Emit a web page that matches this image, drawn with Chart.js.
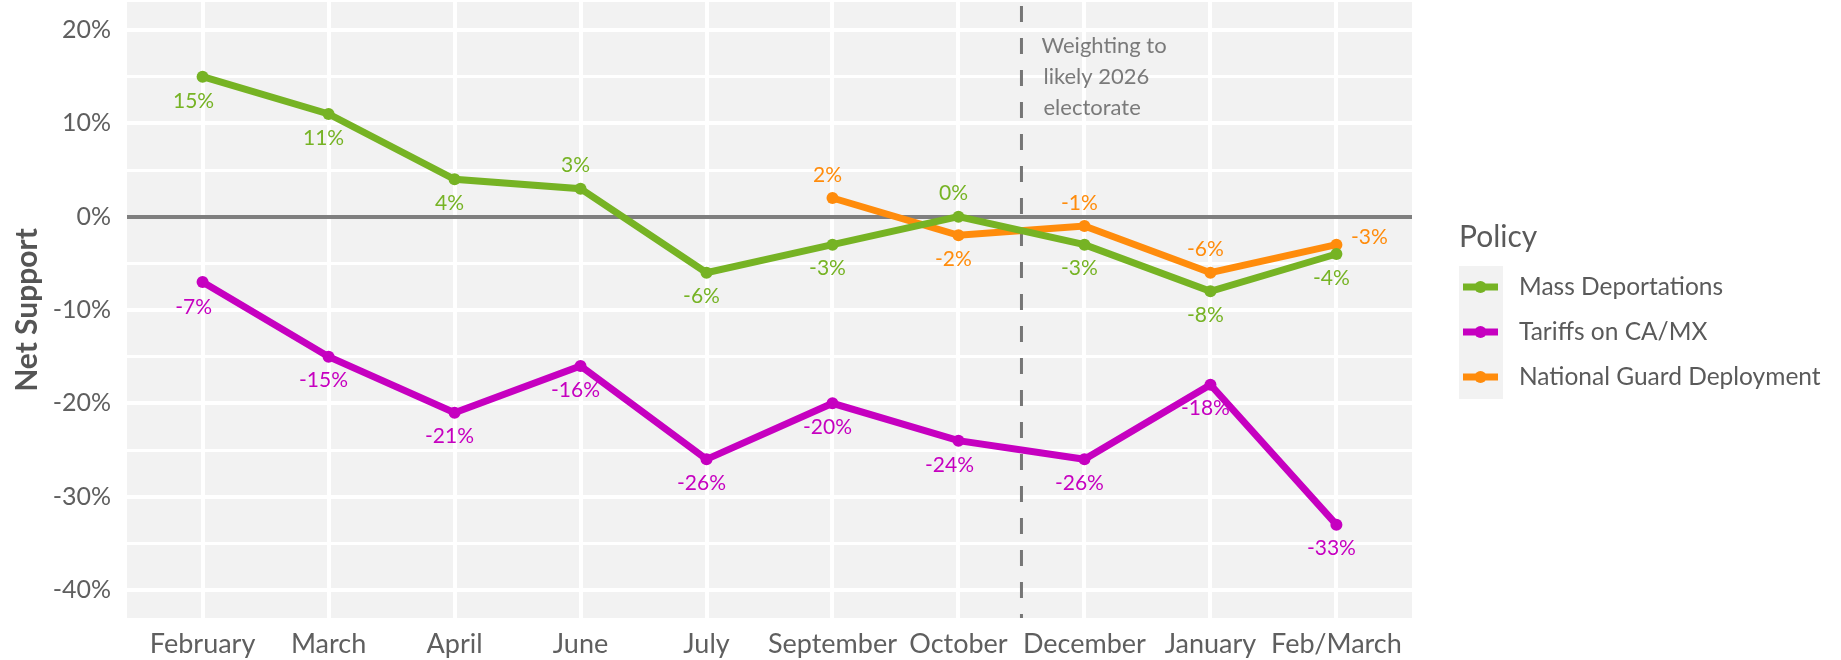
<!DOCTYPE html>
<html>
<head>
<meta charset="utf-8">
<script src="https://cdn.jsdelivr.net/npm/chart.js@4"></script>
<style>
  html, body { margin: 0; padding: 0; background: #fff; }
  #wrap { width: 1841px; height: 660px; }
</style>
</head>
<body>
<div id="wrap"><canvas id="chart" width="1841" height="660"></canvas></div>
<script>
// data
const months = ["February", "March", "April", "June", "July", "September", "October", "December", "January", "Feb/March"];
const massDeportations = [15, 11, 4, 3, -6, -3, 0, -3, -8, -4];
const tariffs = [-7, -15, -21, -16, -26, -20, -24, -26, -18, -33];
const nationalGuard = [null, null, null, null, null, 2, -2, -1, -6, -3];
const seriesNames = ["Mass Deportations", "Tariffs on CA/MX", "National Guard Deployment"];
const yTicks = [-40, -35, -30, -25, -20, -15, -10, -5, 0, 5, 10, 15, 20];
const weightingNote = ["Weighting to", "likely 2026", "electorate"];
const weightingBreak = 6.5; // between October and December

// where each value label sits relative to its point
const massLabelPos = ["bl", "b", "b", "a", "b", "b", "a", "b", "b", "b"];
const tariffLabelPos = ["bl", "b", "b", "b", "b", "b", "bl", "b", "b", "b"];
const guardLabelPos = [null, null, null, null, null, "a", "b", "a", "a", "r"];

const GREEN = "#76b324";
const MAGENTA = "#c600c0";
const ORANGE = "#ff8c0c";
const FONT = "Lato, 'Open Sans', sans-serif";

const labelOffsets = {
  b: [-5, 24],
  bl: [-9, 25],
  a: [-5, -23],
  r: [33, -7]
};

function toPoints(values) {
  return values
    .map((v, i) => ({ x: i, y: v }))
    .filter(p => p.y !== null);
}

const series = [
  { name: seriesNames[0], values: massDeportations, color: GREEN, pos: massLabelPos },
  { name: seriesNames[1], values: tariffs, color: MAGENTA, pos: tariffLabelPos },
  { name: seriesNames[2], values: nationalGuard, color: ORANGE, pos: guardLabelPos }
];

// panel background + dashed "weighting" line + note
const panelPlugin = {
  id: "panel",
  beforeDraw(chart) {
    const { ctx, chartArea: a } = chart;
    ctx.save();
    ctx.fillStyle = "#f2f2f2";
    ctx.fillRect(a.left, a.top, a.right - a.left, a.bottom - a.top);
    ctx.restore();
  },
  beforeDatasetsDraw(chart) {
    const { ctx, chartArea: a, scales } = chart;
    const x = scales.x.getPixelForValue(weightingBreak);
    ctx.save();
    ctx.strokeStyle = "#767676";
    ctx.lineWidth = 3;
    ctx.setLineDash([16, 16]);
    ctx.beginPath();
    ctx.moveTo(x, a.top + 4);
    ctx.lineTo(x, a.bottom);
    ctx.stroke();
    ctx.setLineDash([]);
    ctx.fillStyle = "#7a7a7a";
    ctx.font = "22px " + FONT;
    ctx.textAlign = "left";
    ctx.textBaseline = "alphabetic";
    weightingNote.forEach((line, i) => {
      ctx.fillText(line, x + 20 + (i > 0 ? 2 : 0), 53 + i * 31);
    });
    ctx.restore();
  }
};

// value labels next to each point
const labelPlugin = {
  id: "valueLabels",
  afterDatasetsDraw(chart) {
    const { ctx } = chart;
    ctx.save();
    ctx.font = "21px " + FONT;
    ctx.textAlign = "center";
    ctx.textBaseline = "middle";
    chart.data.datasets.forEach((ds, di) => {
      const meta = chart.getDatasetMeta(di);
      const s = series[di];
      ctx.fillStyle = s.color;
      meta.data.forEach((pt, j) => {
        const raw = ds.data[j];
        const off = labelOffsets[s.pos[raw.x]] || labelOffsets.b;
        ctx.fillText(raw.y + "%", pt.x + off[0], pt.y + off[1]);
      });
    });
    ctx.restore();
  }
};

// legend drawn to the right of the panel
const legendPlugin = {
  id: "policyLegend",
  afterDraw(chart) {
    const { ctx } = chart;
    ctx.save();
    ctx.fillStyle = "#5a5a5a";
    ctx.font = "30px " + FONT;
    ctx.textAlign = "left";
    ctx.textBaseline = "alphabetic";
    ctx.fillText("Policy", 1459, 247);

    ctx.fillStyle = "#f2f2f2";
    ctx.fillRect(1459, 266, 44, 133);

    series.forEach((s, i) => {
      const cy = 287 + i * 45;
      ctx.strokeStyle = s.color;
      ctx.lineWidth = 7;
      ctx.beginPath();
      ctx.moveTo(1463, cy);
      ctx.lineTo(1498, cy);
      ctx.stroke();
      ctx.fillStyle = s.color;
      ctx.beginPath();
      ctx.arc(1480.5, cy, 6, 0, Math.PI * 2);
      ctx.fill();
      ctx.fillStyle = "#5a5a5a";
      ctx.font = "24.5px " + FONT;
      ctx.textBaseline = "middle";
      ctx.fillText(s.name, 1519, cy);
    });
    ctx.restore();
  }
};

const ctx = document.getElementById("chart").getContext("2d");
new Chart(ctx, {
  type: "line",
  data: {
    datasets: series.map(s => ({
      label: s.name,
      data: toPoints(s.values),
      borderColor: s.color,
      backgroundColor: s.color,
      borderWidth: 7,
      pointRadius: 6,
      pointBorderWidth: 0,
      pointBackgroundColor: s.color,
      pointHoverRadius: 6,
      tension: 0,
      fill: false
    }))
  },
  options: {
    responsive: false,
    animation: false,
    events: [],
    layout: { autoPadding: false, padding: { left: 0, top: 2, right: 429, bottom: 0 } },
    plugins: {
      legend: { display: false },
      tooltip: { enabled: false }
    },
    scales: {
      x: {
        type: "linear",
        min: -0.6,
        max: 9.6,
        afterBuildTicks: scale => {
          scale.ticks = months.map((m, i) => ({ value: i }));
        },
        afterFit: scale => {
          scale.height = 42;
          scale.paddingLeft = 0;
          scale.paddingRight = 0;
        },
        ticks: {
          autoSkip: false,
          maxRotation: 0,
          padding: 10,
          color: "#5f5f5f",
          font: { family: FONT, size: 27 },
          callback: v => months[v]
        },
        grid: { color: "#ffffff", lineWidth: 4, drawTicks: false },
        border: { display: false }
      },
      y: {
        type: "linear",
        min: -43,
        max: 23,
        afterBuildTicks: scale => {
          scale.ticks = yTicks.map(v => ({ value: v }));
        },
        afterFit: scale => {
          scale.width = 127;
          scale.paddingTop = 0;
          scale.paddingBottom = 0;
        },
        ticks: {
          autoSkip: false,
          padding: 16,
          color: "#5f5f5f",
          font: { family: FONT, size: 25 },
          callback: v => (v % 10 === 0 ? v + "%" : "")
        },
        grid: {
          drawTicks: false,
          color: c => (c.tick && c.tick.value === 0 ? "#7f7f7f" : "#ffffff"),
          lineWidth: c => {
            if (!c.tick) return 3;
            if (c.tick.value === 0) return 4;
            return c.tick.value % 10 === 0 ? 4 : 3;
          }
        },
        border: { display: false },
        title: {
          display: true,
          text: "Net Support",
          color: "#555555",
          font: { family: FONT, size: 30, weight: "bold" },
          padding: { top: 9, bottom: 0 }
        }
      }
    }
  },
  plugins: [panelPlugin, labelPlugin, legendPlugin]
});
</script>
</body>
</html>
